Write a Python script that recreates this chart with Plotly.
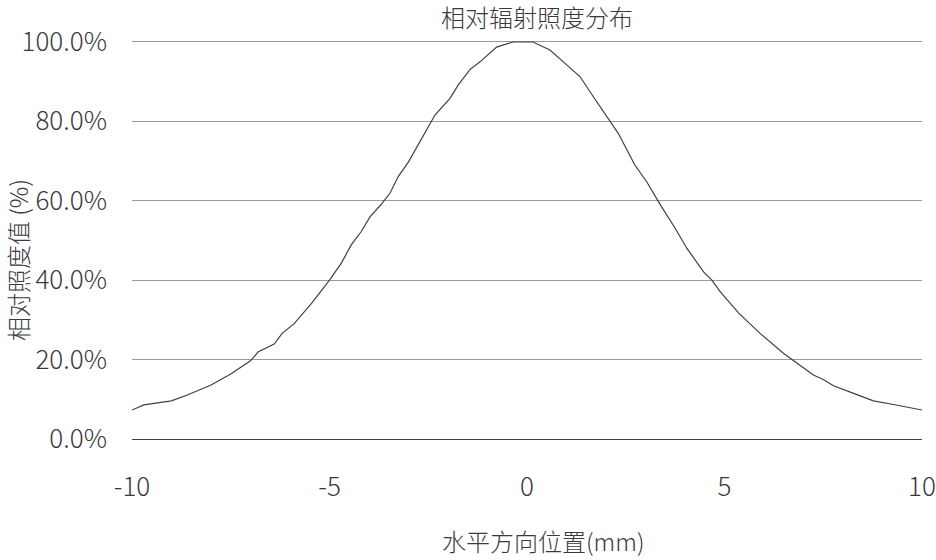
import plotly.graph_objects as go

# Horizontal position (mm) and relative irradiance (%)
x_mm = [-10.0, -9.7, -9.0, -8.6, -8.0, -7.5, -7.0, -6.8, -6.4, -6.2, -5.9, -5.45,
        -5.0, -4.7, -4.45, -4.2, -3.97, -3.7, -3.47, -3.26, -3.0, -2.71, -2.33,
        -1.95, -1.74, -1.44, -1.19, -0.77, -0.35, 0.15, 0.58, 0.92, 1.34, 1.68,
        2.1, 2.31, 2.73, 3.03, 3.4, 3.75, 4.05, 4.47, 4.68, 4.89, 5.36, 5.9,
        6.49, 6.75, 7.25, 7.5, 7.76, 8.27, 8.77, 9.28, 10.0]
irr_pct = [7.3, 8.6, 9.6, 11.1, 13.6, 16.4, 19.7, 22.0, 23.9, 26.6, 29.0, 34.2,
           40.0, 44.3, 48.9, 52.2, 56.0, 59.0, 61.9, 66.1, 69.8, 74.9, 81.6,
           85.8, 89.2, 93.1, 95.0, 98.7, 100.0, 100.0, 98.0, 95.0, 91.3, 86.2,
           79.9, 77.0, 69.0, 64.8, 58.6, 53.1, 48.0, 42.1, 40.0, 37.1, 31.7, 26.6,
           21.6, 19.7, 16.1, 15.0, 13.4, 11.5, 9.6, 8.7, 7.3]

x_ticks = [-10, -5, 0, 5, 10]
y_ticks = [0, 20, 40, 60, 80, 100]
y_ticktext = [f"{v:.1f}%" for v in y_ticks]

title_text = "相对辐射照度分布"
x_title = "水平方向位置(mm)"
y_title = "相对照度值 (%)"

FONT = "Noto Sans CJK SC, Noto Sans, sans-serif"
TXT = "#3a3a3a"
FS = 26
FT = 24

fig = go.Figure()
fig.add_trace(go.Scatter(
    x=x_mm, y=irr_pct, mode="lines",
    line=dict(color="#404040", width=1.2),
    showlegend=False, hoverinfo="x+y",
))

fig.update_layout(
    width=936, height=560,
    margin=dict(l=132, r=14, t=40, b=119),
    paper_bgcolor="white", plot_bgcolor="white",
    font=dict(family=FONT, color=TXT, size=FS, weight=300),
    title=dict(text=title_text, x=(537 - 132) / 790, xref="paper", xanchor="center",
               y=1 - 19 / 560, yref="container", yanchor="middle",
               font=dict(size=FT, family=FONT, color=TXT, weight=300)),
    annotations=[
        dict(text=x_title, xref="paper", yref="paper", x=(543 - 132) / 790,
             y=-(540 - 441) / 401, xanchor="center", yanchor="middle",
             showarrow=False, font=dict(size=FT, family=FONT, color=TXT, weight=300)),
        dict(text=y_title, xref="paper", yref="paper", x=-(132 - 17) / 790,
             y=(441 - 260) / 401, xanchor="center", yanchor="middle", textangle=-90,
             showarrow=False, font=dict(size=FT, family=FONT, color=TXT, weight=300)),
    ],
)
fig.update_xaxes(
    range=[-10, 10], tickvals=x_ticks, ticktext=[str(v) for v in x_ticks],
    showgrid=False, zeroline=False, showline=False, ticks="",
    ticklabelstandoff=28, tickfont=dict(size=FS), automargin=False,
)
fig.update_yaxes(
    range=[-0.5, 100.5], tickvals=y_ticks, ticktext=y_ticktext,
    showgrid=True, gridcolor="#9a9a9a", gridwidth=1,
    zeroline=True, zerolinecolor="#404040", zerolinewidth=1,
    showline=False, ticks="", ticklabelstandoff=24, tickfont=dict(size=FS),
    automargin=False,
)

fig.write_html("out.html", config={"displayModeBar": False},
               post_script="document.body.style.margin='0';")
